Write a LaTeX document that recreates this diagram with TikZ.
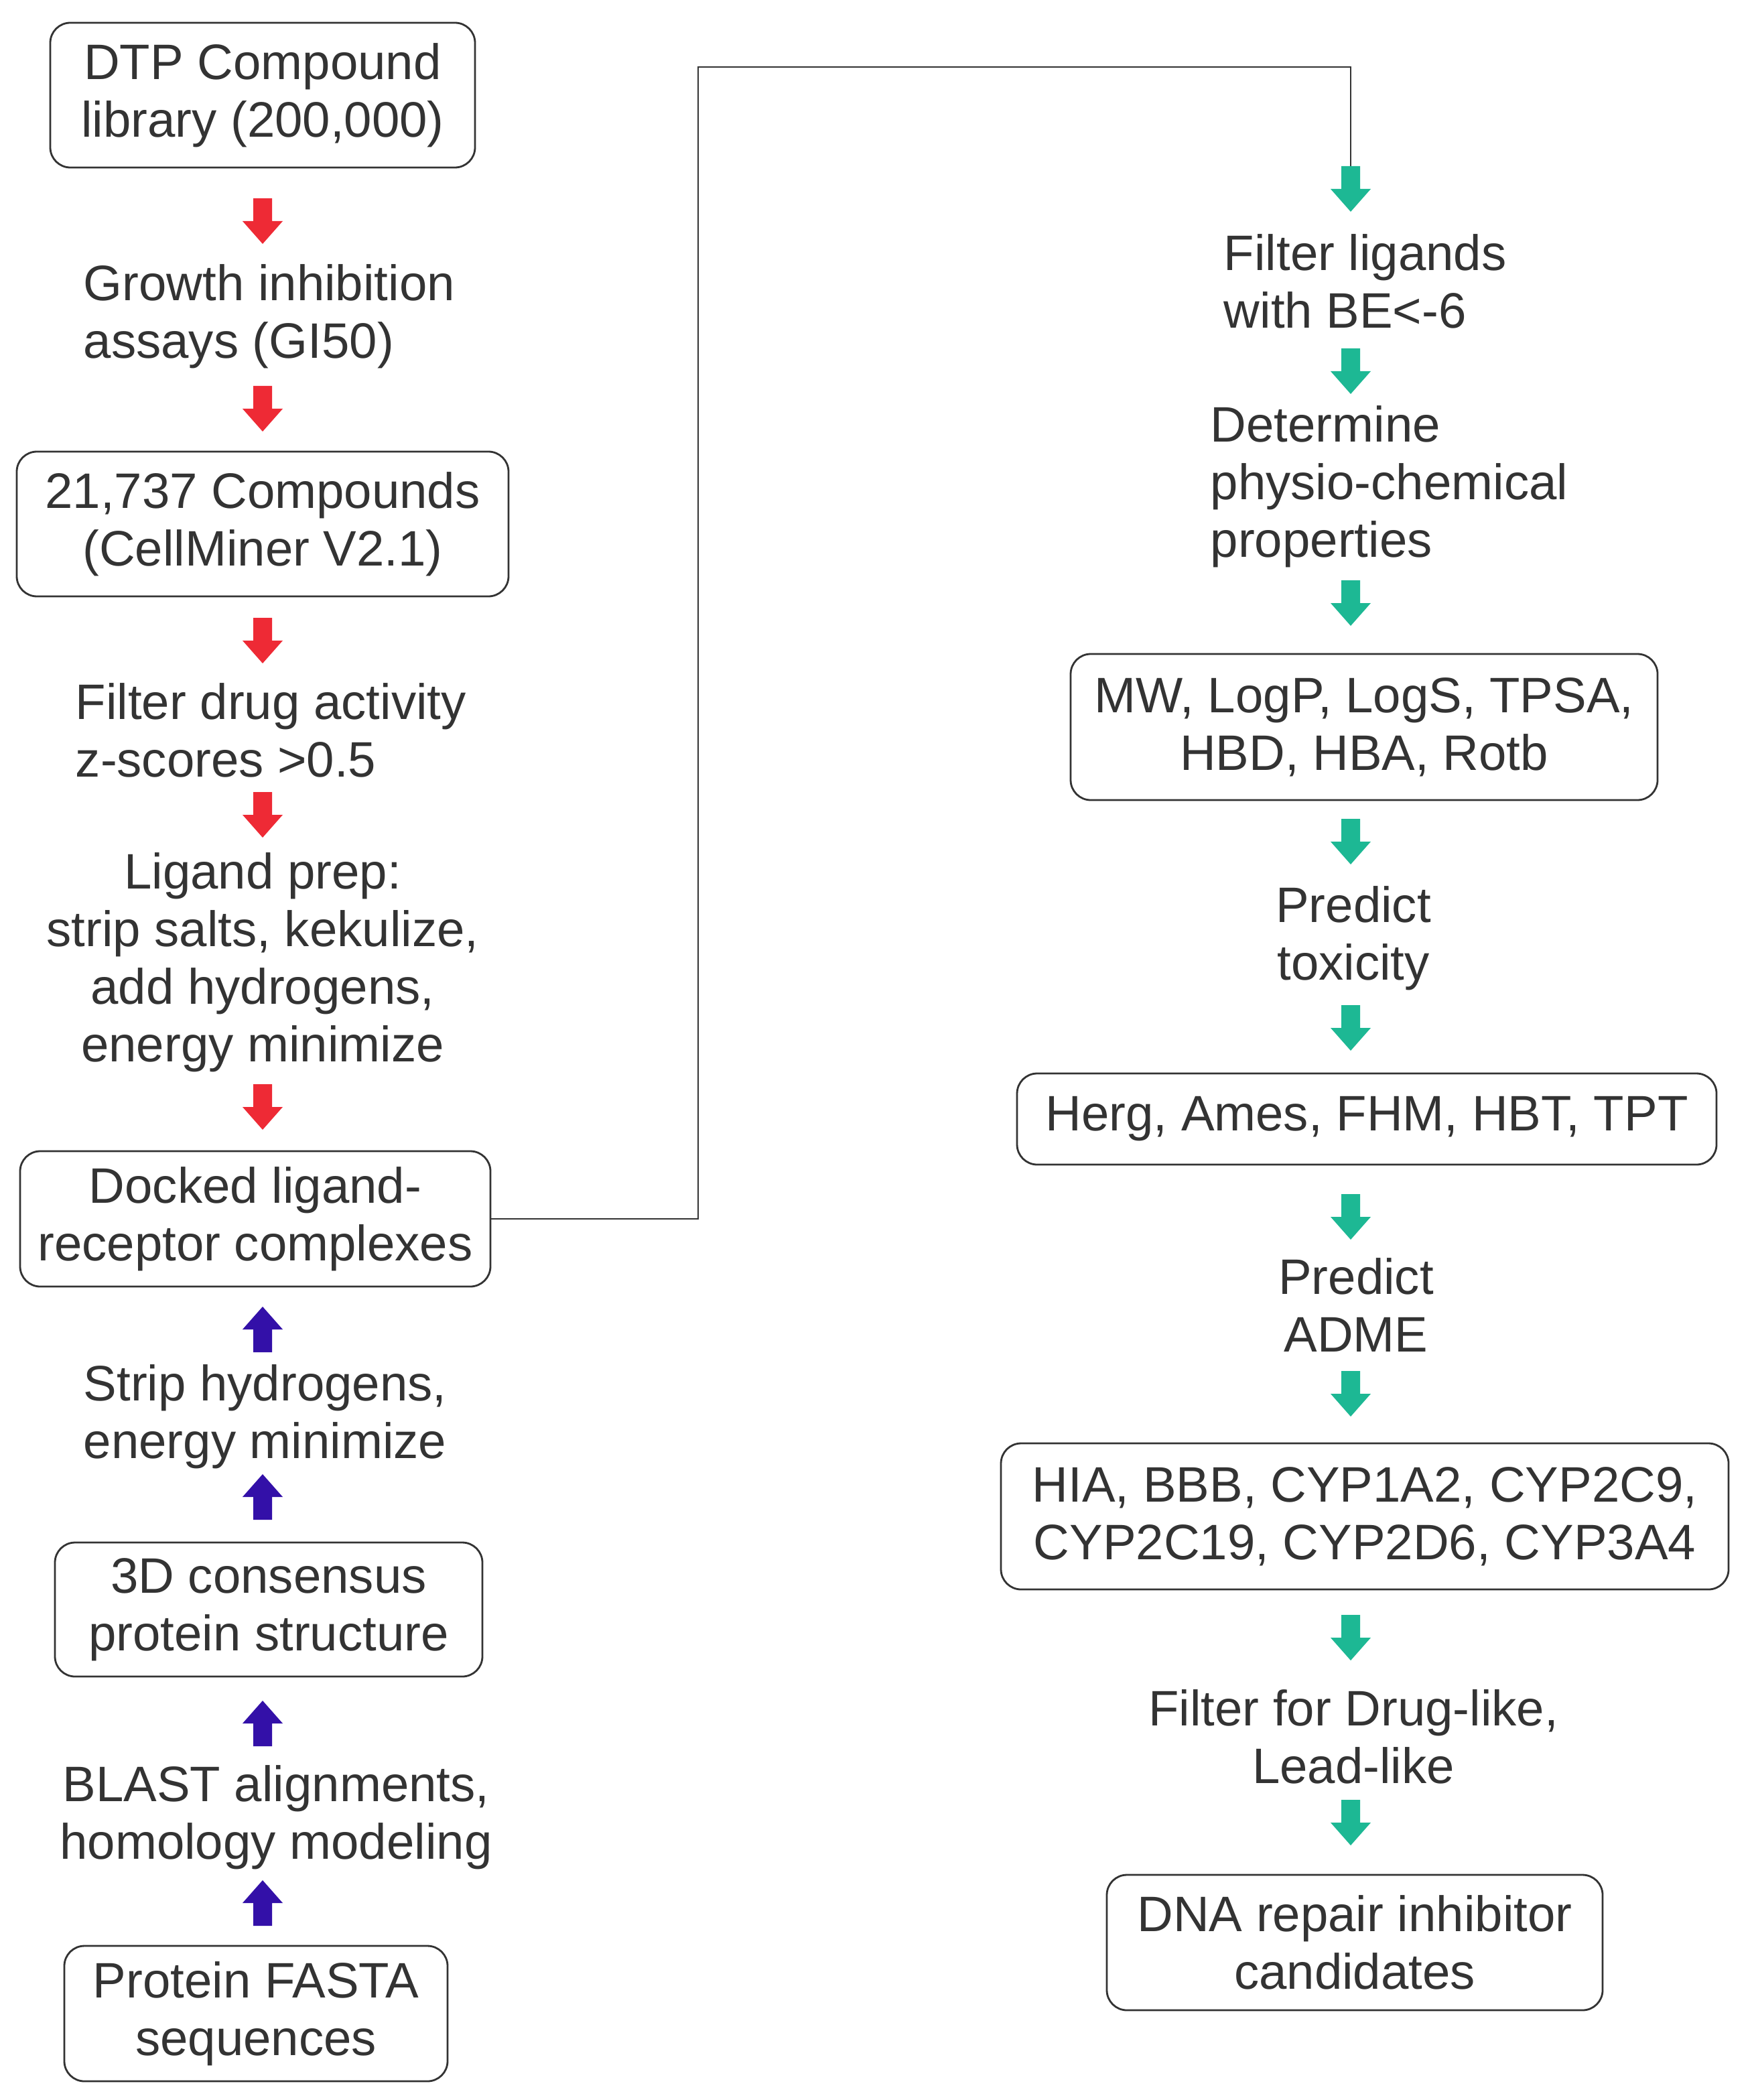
\documentclass[tikz,border=0pt]{standalone}
\usepackage{fontspec}
\setmainfont{Liberation Sans}
\definecolor{tx}{HTML}{333333}
\definecolor{rr}{HTML}{EE2A35}
\definecolor{bb}{HTML}{3310A8}
\definecolor{gg}{HTML}{1DB894}
\begin{document}
\begin{tikzpicture}[x=0.5pt,y=-0.5pt,
  every node/.style={text=tx,font=\fontsize{18.6}{21.5}\selectfont},
  box/.style={draw=tx,line width=0.7pt,rounded corners=7.5pt,align=center,inner sep=0pt},
  lbl/.style={align=center,inner sep=0pt},
  lbll/.style={align=left,inner sep=0pt,anchor=west}]
\newcommand\dnarr[2]{\fill[#2] ([shift={(-7,-17)}]#1) -- ([shift={(7,-17)}]#1) -- ([shift={(7,0)}]#1) -- ([shift={(15,0)}]#1) -- ([shift={(0,17)}]#1) -- ([shift={(-15,0)}]#1) -- ([shift={(-7,0)}]#1) -- cycle;}
\newcommand\uparr[2]{\fill[#2] ([shift={(-7,17)}]#1) -- ([shift={(7,17)}]#1) -- ([shift={(7,0)}]#1) -- ([shift={(15,0)}]#1) -- ([shift={(0,-17)}]#1) -- ([shift={(-15,0)}]#1) -- ([shift={(-7,0)}]#1) -- cycle;}
\useasboundingbox (0,0) rectangle (1307,1567);
% left column
\node[box,minimum width=158.5pt,minimum height=54pt] (dtp) at (196,71) {DTP Compound\\library (200,000)};
\coordinate (a1) at (196,165); \dnarr{a1}{rr}
\node[lbll] (gi) at (62,236) {Growth inhibition\\assays (GI50)};
\coordinate (a2) at (196,305); \dnarr{a2}{rr}
\node[box,minimum width=183.5pt,minimum height=54pt] (cm) at (196,391) {21,737 Compounds\\(CellMiner V2.1)};
\coordinate (a3) at (196,478); \dnarr{a3}{rr}
\node[lbll] (fd) at (56,545) {Filter drug activity\\z-scores >0.5};
\coordinate (a4) at (196,608); \dnarr{a4}{rr}
\node[lbl] (lp) at (196,718) {Ligand prep:\\strip salts, kekulize,\\add hydrogens,\\energy minimize};
\coordinate (a5) at (196,826); \dnarr{a5}{rr}
\node[box,minimum width=175.5pt,minimum height=50.5pt] (dock) at (190.5,909.5) {Docked ligand-\\receptor complexes};
\coordinate (b1) at (196,992); \uparr{b1}{bb}
\node[lbll] (sh) at (62,1057) {Strip hydrogens,\\energy minimize};
\coordinate (b2) at (196,1117); \uparr{b2}{bb}
\node[box,minimum width=159.5pt,minimum height=50pt] (d3) at (200.5,1201) {3D consensus\\protein structure};
\coordinate (b3) at (196,1286); \uparr{b3}{bb}
\node[lbl] (bl) at (206,1356) {BLAST alignments,\\homology modeling};
\coordinate (b4) at (196,1420); \uparr{b4}{bb}
\node[box,minimum width=143pt,minimum height=50.5pt] (fa) at (191,1502.5) {Protein FASTA\\sequences};
% right column
\coordinate (c1) at (521,909.5);
\coordinate (c2) at (521,50);
\coordinate (c3) at (1008,50);
\coordinate (g1) at (1008,141);
\coordinate (g1t) at (1008,124);
\draw[tx,line width=0.7pt] (dock.east) -- (c1) -- (c2) -- (c3) -- (g1t);
\dnarr{g1}{gg}
\node[lbll] (fl) at (913,210) {Filter ligands\\with BE<-6};
\coordinate (g2) at (1008,277); \dnarr{g2}{gg}
\node[lbll] (dp) at (903,363) {Determine\\physio-chemical\\properties};
\coordinate (g3) at (1008,450); \dnarr{g3}{gg}
\node[box,minimum width=219pt,minimum height=54.5pt] (mw) at (1018,542.5) {MW, LogP, LogS, TPSA,\\HBD, HBA, Rotb};
\coordinate (g4) at (1008,628); \dnarr{g4}{gg}
\node[lbl] (pt) at (1010,700) {Predict\\toxicity};
\coordinate (g5) at (1008,767); \dnarr{g5}{gg}
\node[box,minimum width=261pt,minimum height=34pt] (hg) at (1020,835) {Herg, Ames, FHM, HBT, TPT};
\coordinate (g6) at (1008,908); \dnarr{g6}{gg}
\node[lbl] (pa) at (1012,974) {Predict\\ADME};
\coordinate (g7) at (1008,1040); \dnarr{g7}{gg}
\node[box,minimum width=271.5pt,minimum height=54.5pt] (hia) at (1018.5,1131.5) {HIA, BBB, CYP1A2, CYP2C9,\\CYP2C19, CYP2D6, CYP3A4};
\coordinate (g8) at (1008,1222); \dnarr{g8}{gg}
\node[lbl] (fdl) at (1010,1296) {Filter for Drug-like,\\Lead-like};
\coordinate (g9) at (1008,1360); \dnarr{g9}{gg}
\node[box,minimum width=185pt,minimum height=50.5pt] (dna) at (1011,1449.5) {DNA repair inhibitor\\candidates};
\end{tikzpicture}
\end{document}
